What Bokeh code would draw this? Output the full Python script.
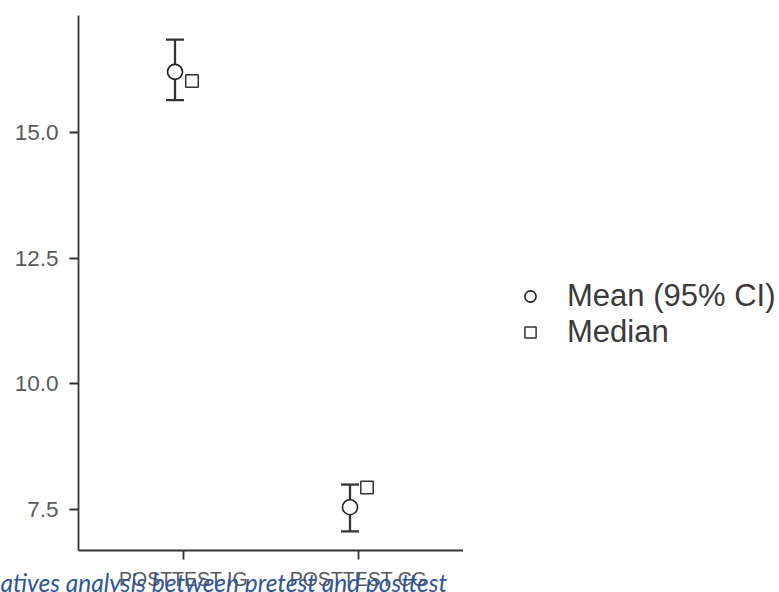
from bokeh.plotting import figure
from bokeh.layouts import row
from bokeh.models import Range1d, FixedTicker, Legend, LegendItem, Title, Whisker, TeeHead, ColumnDataSource
from bokeh.embed import file_html
from bokeh.resources import INLINE

categories = ["POSTTEST IG", "POSTTEST CG"]
means = [16.20, 7.55]
ci_lower = [15.64, 7.07]
ci_upper = [16.84, 8.00]
medians = [16.02, 7.94]
y_ticks = [7.5, 10.0, 12.5, 15.0]
legend_labels = ["Mean (95% CI)", "Median"]
caption = "atives analysis between pretest and posttest"

pos = [i + 1 for i in range(len(categories))]
off = 0.0486
x_mean = [x - off for x in pos]
x_med = [x + off for x in pos]

p = figure(width=463, height=592, output_backend="svg", toolbar_location=None,
           x_range=Range1d(0.4, 2.6), y_range=Range1d(6.69, 17.32),
           min_border_left=78, min_border_top=15, min_border_bottom=39, min_border_right=0)
p.outline_line_color = None
p.grid.visible = False
p.background_fill_color = "white"
p.border_fill_color = "white"

for ax in (p.xaxis[0], p.yaxis[0]):
    ax.axis_line_color = "#333333"
    ax.axis_line_width = 1.8
    ax.major_tick_line_color = "#333333"
    ax.major_tick_line_width = 1.8
    ax.major_tick_out = 9
    ax.major_tick_in = 0
    ax.minor_tick_line_color = None
    ax.major_label_text_font = "Liberation Sans"
    ax.major_label_text_color = "#595959"

p.xaxis.ticker = FixedTicker(ticks=pos)
p.xaxis.major_label_overrides = {x: c for x, c in zip(pos, categories)}
p.xaxis.major_label_standoff = 8
p.xaxis.major_label_text_font_size = "19.5px"
p.yaxis.ticker = FixedTicker(ticks=y_ticks)
p.yaxis.major_label_overrides = {t: f"{t:.1f}" for t in y_ticks}
p.yaxis.major_label_standoff = 11
p.yaxis.major_label_text_font_size = "22.5px"

src = ColumnDataSource(dict(x=x_mean, lower=ci_lower, upper=ci_upper))
wh = Whisker(base="x", lower="lower", upper="upper", source=src, dimension="height",
             line_color="#333333", line_width=2.3,
             upper_head=TeeHead(size=18, line_color="#333333", line_width=2.3),
             lower_head=TeeHead(size=18, line_color="#333333", line_width=2.3))
p.add_layout(wh)

mean_style = dict(marker="circle", fill_color="white", line_color="#222222", line_width=1.6)
med_style = dict(marker="square", fill_color="white", line_color="#333333", line_width=1.5)
p.scatter(x_mean, means, size=15, **mean_style)
p.scatter(x_med, medians, size=12.5, **med_style)

cap = Title(text=caption, align="left", offset=-78, standoff=-50, vertical_align="top",
            text_font="Lato", text_font_style="italic", text_font_size="24.5px",
            text_color="#2F5597")
p.add_layout(cap, "below")

# legend panel (its renderers hold the same data, outside its visible ranges)
p2 = figure(width=316, height=592, output_backend="svg", toolbar_location=None,
            x_range=Range1d(100, 101), y_range=Range1d(100, 101),
            x_axis_location=None, y_axis_location=None, min_border=0)
p2.outline_line_color = None
p2.grid.visible = False
p2.background_fill_color = "white"
p2.border_fill_color = "white"
l_mean = p2.scatter(x_mean, means, **mean_style)
l_med = p2.scatter(x_med, medians, **med_style)
legend = Legend(items=[LegendItem(label=legend_labels[0], renderers=[l_mean]),
                       LegendItem(label=legend_labels[1], renderers=[l_med])],
                location=(53, 200), border_line_color=None, background_fill_alpha=0,
                glyph_width=28, glyph_height=28, spacing=-8, padding=10, margin=0,
                label_standoff=23, label_text_font="Liberation Sans",
                label_text_font_size="31px", label_text_color="#3a3a3a")
p2.add_layout(legend)

layout = row(p, p2, spacing=0)
open("out.html", "w").write(file_html(layout, INLINE))
